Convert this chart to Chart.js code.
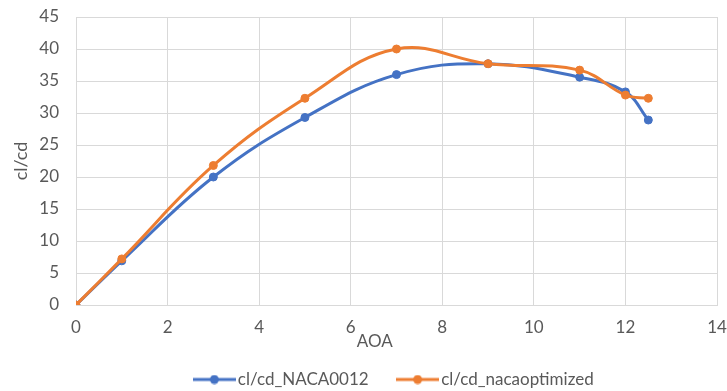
<!DOCTYPE html>
<html>
<head>
<meta charset="utf-8">
<title>cl/cd vs AOA</title>
<script src="https://cdn.jsdelivr.net/npm/chart.js@4/dist/chart.umd.min.js"></script>
<style>
  html, body { margin: 0; padding: 0; background: #ffffff; overflow: hidden; }
  #wrap { width: 727px; height: 391px; position: relative; }
</style>
</head>
<body>
<div id="wrap"><canvas id="chart"></canvas></div>
<script>
// Angle of attack (degrees)
const aoa = [0, 1, 3, 5, 7, 9, 11, 12, 12.5];
// Lift-to-drag ratio for the baseline profile
const clcdNaca0012 = [0, 6.9, 20.0, 29.3, 36.0, 37.7, 35.6, 33.3, 28.9];
// Lift-to-drag ratio for the optimized profile
const clcdNacaOptimized = [0, 7.2, 21.8, 32.3, 40.0, 37.7, 36.7, 32.8, 32.3];

const seriesNames = ['cl/cd_NACA0012', 'cl/cd_nacaoptimized'];
const xAxisTitle = 'AOA';
const yAxisTitle = 'cl/cd';

const BLUE = '#4472C4';
const ORANGE = '#ED7D31';
const GRID = '#D9D9D9';
const TEXT = '#595959';
const FONT = 'Lato, "Open Sans", sans-serif';
const FS = 17;

// legend swatch: short line with a dot in the middle
function legendSwatch(color) {
  const c = document.createElement('canvas');
  c.width = 43; c.height = 10;
  const g = c.getContext('2d');
  g.strokeStyle = color; g.lineWidth = 3;
  g.beginPath(); g.moveTo(0, 5); g.lineTo(43, 5); g.stroke();
  g.fillStyle = color;
  g.beginPath(); g.arc(21.5, 5, 4.5, 0, Math.PI * 2); g.fill();
  return c;
}

const toPoints = (xs, ys) => xs.map((x, i) => ({ x, y: ys[i] }));

// axis title under the x ticks
const xTitlePlugin = {
  id: 'xTitle',
  afterDraw(chart) {
    const { ctx, chartArea } = chart;
    ctx.save();
    ctx.font = FS + 'px ' + FONT;
    ctx.fillStyle = TEXT;
    ctx.textAlign = 'center';
    ctx.textBaseline = 'middle';
    ctx.fillText(xAxisTitle, chartArea.left + chartArea.width * 0.466, chartArea.bottom + 37);
    ctx.restore();
  }
};

new Chart(document.getElementById('chart'), {
  type: 'scatter',
  data: {
    datasets: [
      {
        label: seriesNames[0],
        data: toPoints(aoa, clcdNaca0012),
        showLine: true,
        borderColor: BLUE,
        backgroundColor: BLUE,
        borderWidth: 3,
        pointRadius: 4,
        pointBorderWidth: 1,
        pointBackgroundColor: BLUE,
        pointBorderColor: BLUE,
        pointStyle: 'circle',
        tension: 0.4,
        order: 1
      },
      {
        label: seriesNames[1],
        data: toPoints(aoa, clcdNacaOptimized),
        showLine: true,
        borderColor: ORANGE,
        backgroundColor: ORANGE,
        borderWidth: 3,
        pointRadius: 4,
        pointBorderWidth: 1,
        pointBackgroundColor: ORANGE,
        pointBorderColor: ORANGE,
        pointStyle: 'circle',
        tension: 0.4,
        order: 0
      }
    ]
  },
  options: {
    responsive: true,
    maintainAspectRatio: false,
    animation: false,
    layout: { padding: { top: 17, right: 10, left: 0, bottom: -7 } },
    plugins: {
      tooltip: { enabled: false },
      legend: {
        position: 'bottom',
        fullSize: false,
        labels: {
          usePointStyle: true,
          pointStyleWidth: 30,
          padding: 34,
          color: TEXT,
          font: { family: FONT, size: FS },
          sort: (a, b) => a.datasetIndex - b.datasetIndex,
          generateLabels(chart) {
            const items = Chart.defaults.plugins.legend.labels.generateLabels(chart);
            items.forEach(it => {
              const ds = chart.data.datasets[it.datasetIndex];
              it.pointStyle = legendSwatch(ds.borderColor);
            });
            return items;
          }
        }
      }
    },
    scales: {
      x: {
        type: 'linear',
        min: 0,
        max: 14,
        ticks: { stepSize: 2, color: TEXT, font: { family: FONT, size: FS }, padding: 12 },
        grid: { color: GRID, lineWidth: 1, drawTicks: false },
        border: { color: GRID },
        afterFit(scale) {
          scale.height = 32;
          scale.paddingLeft = 0;
          scale.paddingRight = 0;
        }
      },
      y: {
        type: 'linear',
        min: 0,
        max: 45,
        ticks: { stepSize: 5, color: TEXT, font: { family: FONT, size: FS }, padding: 17 },
        grid: { color: GRID, lineWidth: 1, drawTicks: false },
        border: { color: GRID },
        title: {
          display: true,
          text: yAxisTitle,
          color: TEXT,
          font: { family: FONT, size: 18 },
          padding: { top: 10, bottom: 0 }
        },
        afterFit(scale) {
          scale.width = 76;
          scale.paddingTop = 0;
          scale.paddingBottom = 0;
        }
      }
    }
  },
  plugins: [xTitlePlugin]
});
</script>
</body>
</html>
